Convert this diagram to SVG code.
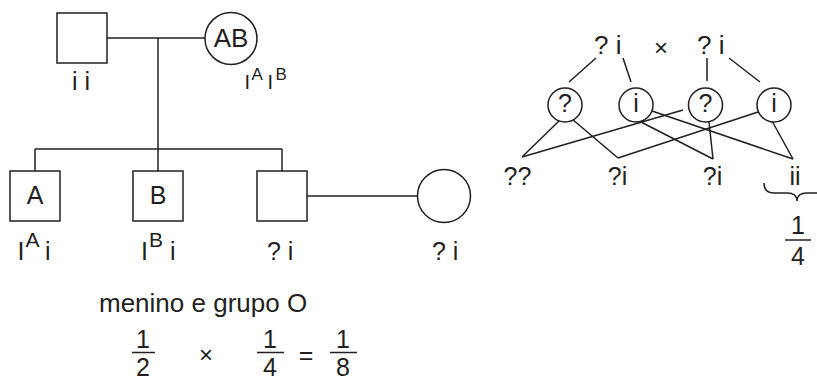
<svg xmlns="http://www.w3.org/2000/svg" width="817" height="380" viewBox="0 0 817 380">
<style>
.s{fill:none;stroke:#231f20;stroke-width:1.5}
.n{fill:#fff;stroke:#231f20;stroke-width:1.5}
text{font-family:"Liberation Sans",Arial,sans-serif;fill:#231f20;font-size:25px}
.m{text-anchor:middle}
.sup{font-size:21px}
.sm{font-size:20px}
.smsup{font-size:17px}
</style>
<rect width="817" height="380" fill="#fff"/>
<g id="connectors" class="s">
<line x1="107" y1="38" x2="205" y2="38"/>
<line x1="158" y1="38" x2="158" y2="149"/>
<line x1="35" y1="149" x2="282" y2="149"/>
<line x1="35" y1="149" x2="35" y2="171"/>
<line x1="158" y1="149" x2="158" y2="171"/>
<line x1="282" y1="149" x2="282" y2="171"/>
<line x1="307" y1="196" x2="418" y2="196"/>
<line x1="596" y1="58" x2="569" y2="82"/>
<line x1="623" y1="58" x2="631" y2="82"/>
<line x1="707" y1="58" x2="707" y2="81"/>
<line x1="729" y1="58" x2="760" y2="82"/>
<line x1="559" y1="121" x2="522" y2="157"/>
<line x1="572" y1="119" x2="618" y2="158"/>
<line x1="683" y1="110" x2="522" y2="157"/>
<line x1="639" y1="121" x2="713" y2="159"/>
<line x1="652" y1="111" x2="793" y2="159"/>
<line x1="758" y1="112" x2="618" y2="158"/>
<line x1="709" y1="122" x2="713" y2="159"/>
<line x1="772" y1="121" x2="793" y2="159"/>
<path d="M764,183 Q764,193 774,193 L787,193 Q797,193 797,201 Q797,193 807,193 L820,193 Q830,193 830,183"/>
</g>
<g id="father">
<rect class="n" x="57" y="13" width="50" height="50"/>
<text x="81" y="90" class="m">i i</text>
</g>
<g id="mother">
<circle class="n" cx="231" cy="38.5" r="26"/>
<text x="231" y="47" class="m" style="font-size:26px">AB</text>
<text x="244.5" y="89" class="sm">I</text>
<text x="251.5" y="80" class="smsup">A</text>
<text x="267.5" y="89" class="sm">I</text>
<text x="275.5" y="80" class="smsup">B</text>
</g>
<g id="son-a">
<rect class="n" x="10" y="171" width="50" height="50"/>
<text x="35" y="203.5" class="m">A</text>
<text x="17.5" y="260">I</text>
<text x="25.5" y="247" class="sup">A</text>
<text x="45" y="260">i</text>
</g>
<g id="son-b">
<rect class="n" x="133" y="171" width="50" height="50"/>
<text x="158" y="203.5" class="m">B</text>
<text x="141" y="260">I</text>
<text x="149" y="247" class="sup">B</text>
<text x="170" y="260">i</text>
</g>
<g id="son-c">
<rect class="n" x="257" y="171" width="50" height="50"/>
<text x="267" y="260">? i</text>
</g>
<g id="wife">
<circle class="n" cx="444" cy="196" r="26.5"/>
<text x="432" y="260">? i</text>
</g>
<g id="cross">
<text x="594" y="54" style="font-size:26px">? i</text>
<text x="661" y="56" class="m" style="font-size:24px">×</text>
<text x="697" y="54" style="font-size:26px">? i</text>
</g>
<g id="gamete-1"><circle class="n" cx="565" cy="105" r="17"/><text x="565" y="112" class="m">?</text></g>
<g id="gamete-2"><circle class="n" cx="636" cy="105" r="17"/><text x="636" y="112" class="m">i</text></g>
<g id="gamete-3"><circle class="n" cx="705.5" cy="105" r="17"/><text x="705.5" y="112" class="m">?</text></g>
<g id="gamete-4"><circle class="n" cx="774" cy="105" r="17"/><text x="774" y="112" class="m">i</text></g>
<g id="offspring">
<text x="517.5" y="185" class="m">??</text>
<text x="617.5" y="185" class="m">?i</text>
<text x="712.5" y="185" class="m">?i</text>
<text x="795" y="185" class="m">ii</text>
</g>
<g id="fraction-right">
<text x="798" y="233.5" class="m">1</text>
<line class="s" x1="785" y1="240" x2="811" y2="240"/>
<text x="798" y="265" class="m">4</text>
</g>
<g id="calc">
<text x="99" y="312" style="font-size:26px">menino e grupo O</text>
<text x="143" y="348" class="m">1</text>
<line class="s" x1="132" y1="352.5" x2="155" y2="352.5"/>
<text x="143" y="376" class="m">2</text>
<text x="206" y="363" class="m" style="font-size:24px">×</text>
<text x="270" y="348" class="m">1</text>
<line class="s" x1="257" y1="352.5" x2="284" y2="352.5"/>
<text x="270" y="376" class="m">4</text>
<text x="306" y="364" class="m">=</text>
<text x="343" y="348" class="m">1</text>
<line class="s" x1="330" y1="352.5" x2="357" y2="352.5"/>
<text x="343" y="376" class="m">8</text>
</g>
</svg>
